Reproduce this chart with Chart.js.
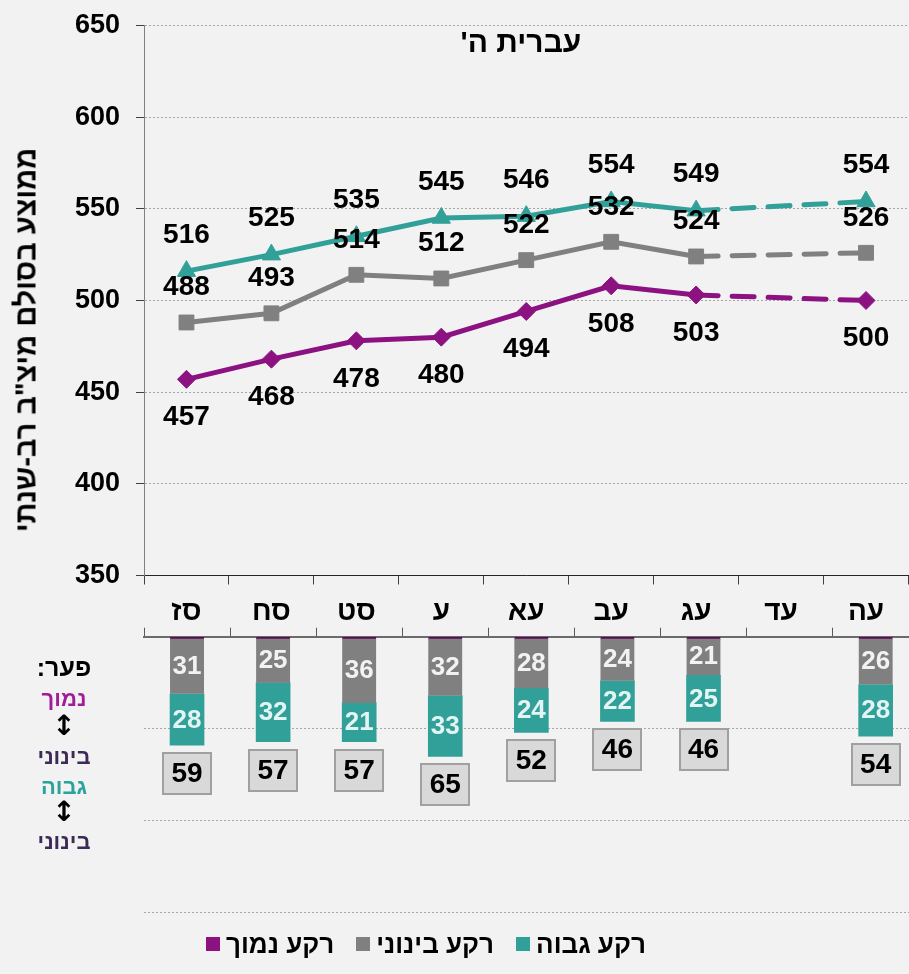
<!DOCTYPE html>
<html><head><meta charset="utf-8">
<script src="https://cdn.jsdelivr.net/npm/chart.js@4.4.1/dist/chart.umd.min.js"></script>
<style>
html,body{margin:0;padding:0;background:#f2f2f2;overflow:hidden;width:909px;height:974px;}
#wrap{position:relative;width:909px;height:974px;overflow:hidden;font-family:"Liberation Sans",Arial,sans-serif;font-weight:bold;}
canvas{position:absolute;left:0;}
#c1{top:0}
#c2{top:600px}
.t{position:absolute;white-space:nowrap;direction:rtl;}
#ytitle{left:26px;top:340px;font-size:29px;transform:translate(-50%,-50%) rotate(-90deg);color:#000;}
#title{left:521px;top:42px;font-size:30px;transform:translate(-50%,-50%);color:#000;}
.side{position:absolute;left:0;width:128px;text-align:center;direction:rtl;height:30px;line-height:30px;font-size:22px;}
#legend{position:absolute;left:206px;top:929px;height:30px;display:flex;align-items:center;font-size:26px;color:#000;}
#legend .it{display:flex;align-items:center;margin-right:22px;}
#legend .sq{width:14px;height:14px;margin-right:6px;}
#legend .tx{direction:rtl;}
</style></head><body><div id="wrap">
<canvas id="c1" width="920" height="640"></canvas>
<canvas id="c2" width="920" height="330"></canvas>
<div class="t" id="ytitle">ממוצע בסולם מיצ"ב רב-שנתי</div>
<div class="t" id="title">עברית ה'</div>
<div id="sidebox"></div>
<div id="legend"></div>
</div>
<script>
// ---- data ----
const years = ['סז','סח','סט','ע','עא','עב','עג','עד','עה'];
const highBg = [516,525,535,545,546,554,549,null,554];
const midBg  = [488,493,514,512,522,532,524,null,526];
const lowBg  = [457,468,478,480,494,508,503,null,500];
const gapLowMid  = [31,25,36,32,28,24,21,null,26];
const gapHighMid = [28,32,21,33,24,22,25,null,28];
const gapTotal   = [59,57,57,65,52,46,46,null,54];
const yMin = 350, yMax = 650, yStep = 50;
const seriesNames = ['רקע גבוה','רקע בינוני','רקע נמוך'];
const sideLines = ['פער:','נמוך','↕','בינוני','גבוה','↕','בינוני'];

// ---- styles ----
const FONT = '"Liberation Sans", Arial, sans-serif';
const TEAL = '#31A098', GRAY = '#808080', PURPLE = '#8C1282';
const seriesColors = [TEAL, GRAY, PURPLE];
const labelOffsets = [-36, -35, 38];
const sideColors = ['#000','#A31C97','#000','#3D2B55','#2AA39A','#000','#3D2B55'];
const sideCenters = [667, 699, 726, 757, 787, 812, 842];
const sideSizes = [25,22,28,22,22,28,22];
const sideFonts = [FONT, FONT, '"DejaVu Sans"', FONT, FONT, '"DejaVu Sans"', FONT];

// side text
const sb = document.getElementById('sidebox');
sideLines.forEach((s,i)=>{
  const d = document.createElement('div');
  d.className='side'; d.textContent=s; d.style.color=sideColors[i];
  d.style.top=(sideCenters[i]-15)+'px'; d.style.fontSize=sideSizes[i]+'px';
  d.style.fontFamily=sideFonts[i];
  sb.appendChild(d);
});
// legend (left to right: low, mid, high)
const lg = document.getElementById('legend');
[2,1,0].forEach(k=>{
  const it=document.createElement('div'); it.className='it';
  const sq=document.createElement('span'); sq.className='sq'; sq.style.background=seriesColors[k];
  const tx=document.createElement('span'); tx.className='tx'; tx.textContent=seriesNames[k];
  it.appendChild(sq); it.appendChild(tx); lg.appendChild(it);
});

function isGapSeg(ctx){
  const d = ctx.chart.data.datasets[ctx.datasetIndex].data;
  return (ctx.p1DataIndex - ctx.p0DataIndex > 1) || d[ctx.p0DataIndex] == null || d[ctx.p1DataIndex - 1] == null;
}
const dashSeg = {borderDash: ctx => (isGapSeg(ctx) ? [22,14] : undefined)};

const pointLabels = {
  id:'pointLabels',
  afterDatasetsDraw(chart){
    const ctx = chart.ctx;
    ctx.save();
    ctx.font = 'bold 28px ' + FONT;
    ctx.fillStyle = '#000';
    ctx.textAlign = 'center';
    ctx.textBaseline = 'middle';
    chart.data.datasets.forEach((ds,di)=>{
      const meta = chart.getDatasetMeta(di);
      meta.data.forEach((pt,i)=>{
        const v = ds.data[i];
        if (v == null) return;
        ctx.fillText(String(v), pt.x, pt.y + labelOffsets[di]);
      });
    });
    ctx.restore();
  }
};

function lineDs(idx, data, style, radius){
  return {label: seriesNames[idx], data, borderColor: seriesColors[idx], backgroundColor: seriesColors[idx],
    pointBackgroundColor: seriesColors[idx], pointBorderColor: seriesColors[idx], pointBorderWidth: 1,
    pointStyle: style, pointRadius: radius, borderWidth: 5, spanGaps: true, segment: dashSeg,
    borderCapStyle: 'round', tension: 0};
}

new Chart(document.getElementById('c1'), {
  type: 'line',
  data: { labels: years, datasets: [
    lineDs(0, highBg, 'triangle', 10.5),
    lineDs(1, midBg, 'rect', 10.5),
    lineDs(2, lowBg, 'rectRot', 9)
  ]},
  options: {
    responsive: false, animation: false, events: [], devicePixelRatio: 1,
    layout: { padding: { top: 23.5, right: 1.3, left: 0, bottom: 0 } },
    plugins: { legend: { display: false }, tooltip: { enabled: false } },
    scales: {
      x: { offset: true,
        grid: { offset: true, drawOnChartArea: false, tickLength: 9, color: '#404040' },
        border: { color: '#262626', width: 1 },
        ticks: { font: { family: FONT, size: 28, weight: 'bold' }, color: '#000', padding: 11, maxRotation: 0, autoSkip: false },
        afterFit: s => { s.height = 64.5; } },
      y: { min: yMin, max: yMax,
        ticks: { stepSize: yStep, font: { family: FONT, size: 27, weight: 'bold', lineHeight: 0.7 }, color: '#000', padding: 16 },
        grid: { color: '#A6A6A6', tickColor: '#404040', tickLength: 8, tickBorderDash: [] },
        border: { color: '#808080', width: 1, dash: [2,2] },
        afterFit: s => { s.width = 144; } }
    }
  },
  plugins: [pointLabels]
});

const barLabels = {
  id:'barLabels',
  afterDatasetsDraw(chart){
    const ctx = chart.ctx;
    const m0 = chart.getDatasetMeta(0), m1 = chart.getDatasetMeta(1);
    ctx.save();
    ctx.textAlign = 'center'; ctx.textBaseline = 'middle';
    ctx.font = 'bold 26px ' + FONT;
    m0.data.forEach((el,i)=>{
      if (gapLowMid[i] == null) return;
      const p = el.getProps(['x','y','base'], true);
      ctx.fillStyle = '#F2F2F2';
      ctx.fillText(String(gapLowMid[i]), p.x, (p.y + p.base)/2 + 1);
    });
    m1.data.forEach((el,i)=>{
      if (gapHighMid[i] == null) return;
      const p = el.getProps(['x','y','base'], true);
      ctx.fillStyle = '#E2F4F3';
      ctx.fillText(String(gapHighMid[i]), p.x, (p.y + p.base)/2 + 1);
    });
    ctx.font = 'bold 28px ' + FONT;
    m1.data.forEach((el,i)=>{
      if (gapTotal[i] == null) return;
      const p = el.getProps(['x','y','base'], true);
      const bottom = Math.max(p.y, p.base);
      const top = Math.round(bottom + 8);
      const left = Math.round(p.x - 24);
      ctx.fillStyle = '#D9D9D9';
      ctx.fillRect(left, top, 48, 41);
      ctx.strokeStyle = '#A0A0A0'; ctx.lineWidth = 2;
      ctx.strokeRect(left, top, 48, 41);
      ctx.fillStyle = '#000';
      ctx.fillText(String(gapTotal[i]), p.x, top + 21.5);
    });
    ctx.restore();
  }
};

new Chart(document.getElementById('c2'), {
  type: 'bar',
  data: { labels: years, datasets: [
    { label: 'פער נמוך-בינוני', data: gapLowMid, backgroundColor: GRAY, borderColor: '#5E0A58',
      borderWidth: { top: 2, left: 0, right: 0, bottom: 0 }, borderSkipped: false, barThickness: 34, stack: 's' },
    { label: 'פער גבוה-בינוני', data: gapHighMid, backgroundColor: TEAL, borderWidth: 0, barThickness: 34, stack: 's' }
  ]},
  options: {
    responsive: false, animation: false, events: [], devicePixelRatio: 1,
    layout: { padding: { top: 0, right: 1.3, left: 0, bottom: 17.3 } },
    plugins: { legend: { display: false }, tooltip: { enabled: false } },
    scales: {
      x: { position: 'top', stacked: true, offset: true,
        grid: { offset: true, drawOnChartArea: false, tickLength: 9, color: '#595959' },
        border: { color: '#6B6B6B', width: 2 },
        ticks: { display: false },
        afterFit: s => { s.height = 36.7; } },
      y: { reverse: true, stacked: true, min: 0, max: 150,
        ticks: { display: false, stepSize: 50 },
        grid: { color: '#A6A6A6', drawTicks: false },
        border: { display: false, dash: [2,2] },
        afterFit: s => { s.width = 144; } }
    }
  },
  plugins: [barLabels]
});
</script>
</body></html>
